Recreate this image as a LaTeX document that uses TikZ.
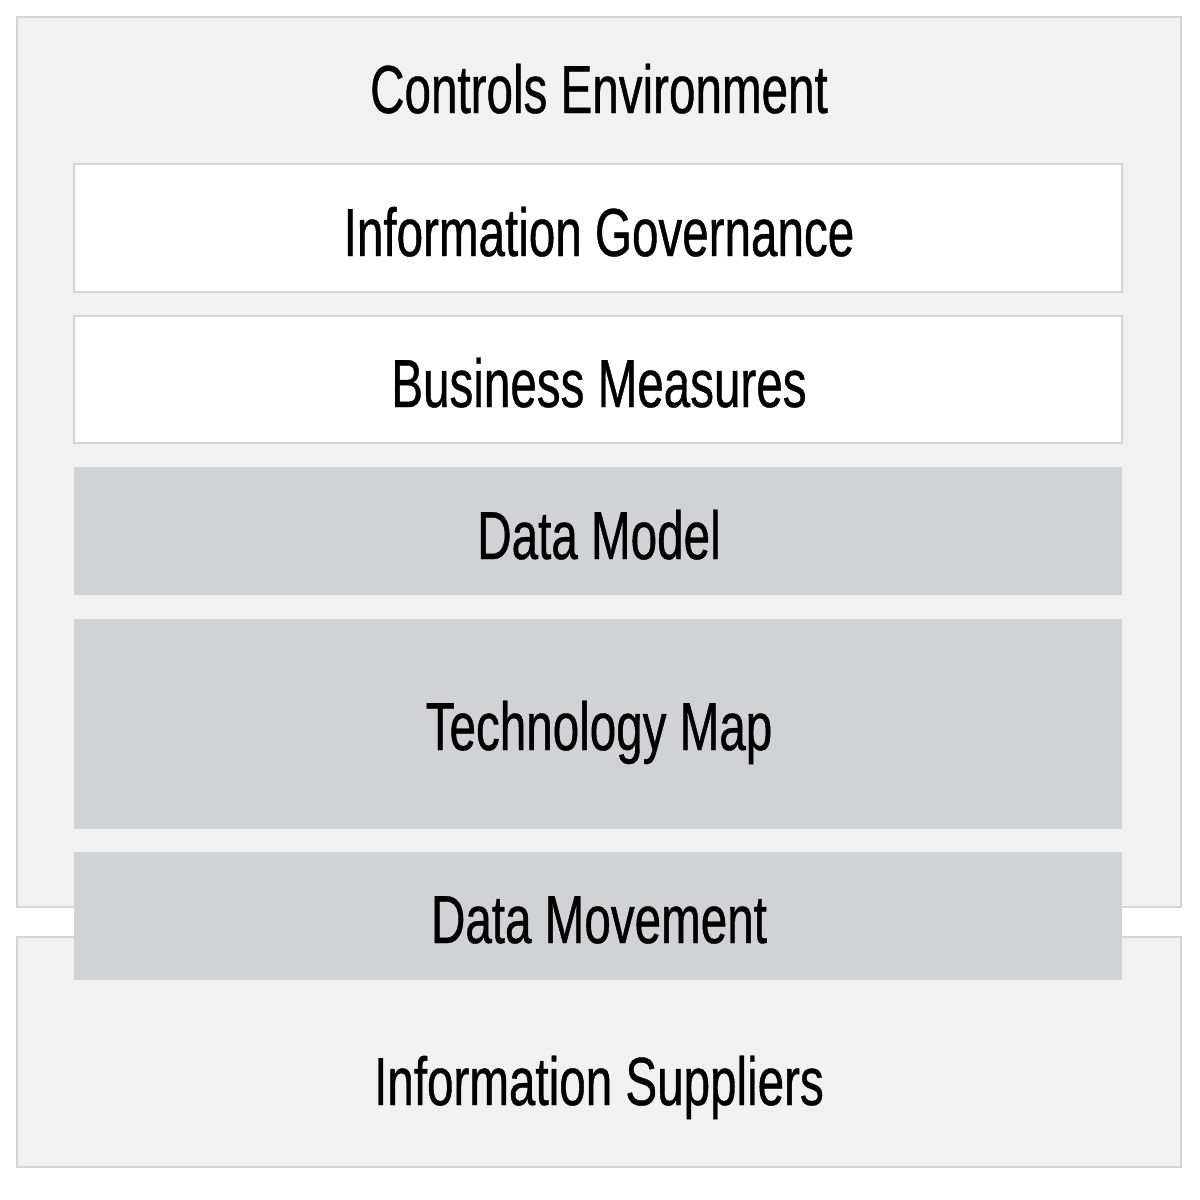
\documentclass[tikz,border=0pt]{standalone}
\usepackage{fontspec}
\setmainfont{Liberation Sans}[FakeStretch=0.70,FakeBold=0.6]
\begin{document}
\begin{tikzpicture}[x=0.5pt,y=-0.5pt,
  lbl/.style={font=\fontsize{34}{36}\selectfont, text=black, inner sep=0pt, anchor=base},
  outerbox/.style={draw=black!17, fill={rgb,255:red,240;green,241;blue,240}, line width=0.8pt},
  whitebox/.style={draw=black!17, fill=white, line width=0.8pt},
  graybox/.style={fill={rgb,255:red,209;green,210;blue,212}}]
\useasboundingbox (0,0) rectangle (1200,1200);
\fill[white] (0,0) rectangle (1200,1200);
% outer containers
\draw[outerbox] (17,17) rectangle (1181,907);
\draw[outerbox] (17,937) rectangle (1181,1167);
% layers
\draw[whitebox] (74,164) rectangle (1122,292);
\draw[whitebox] (74,316) rectangle (1122,443);
\fill[graybox] (74,467) rectangle (1122,595);
\fill[graybox] (74,619) rectangle (1122,829);
\fill[graybox] (74,852) rectangle (1122,980);
% labels
\node[lbl] (env) at (599,113) {Controls Environment};
\node[lbl] (gov) at (599,256) {Information Governance};
\node[lbl] (bm) at (599,407) {Business Measures};
\node[lbl] (dm) at (599,559) {Data Model};
\node[lbl] (tm) at (599,750) {Technology Map};
\node[lbl] (mov) at (599,943) {Data Movement};
\node[lbl] (sup) at (599,1105) {Information Suppliers};
\end{tikzpicture}
\end{document}
